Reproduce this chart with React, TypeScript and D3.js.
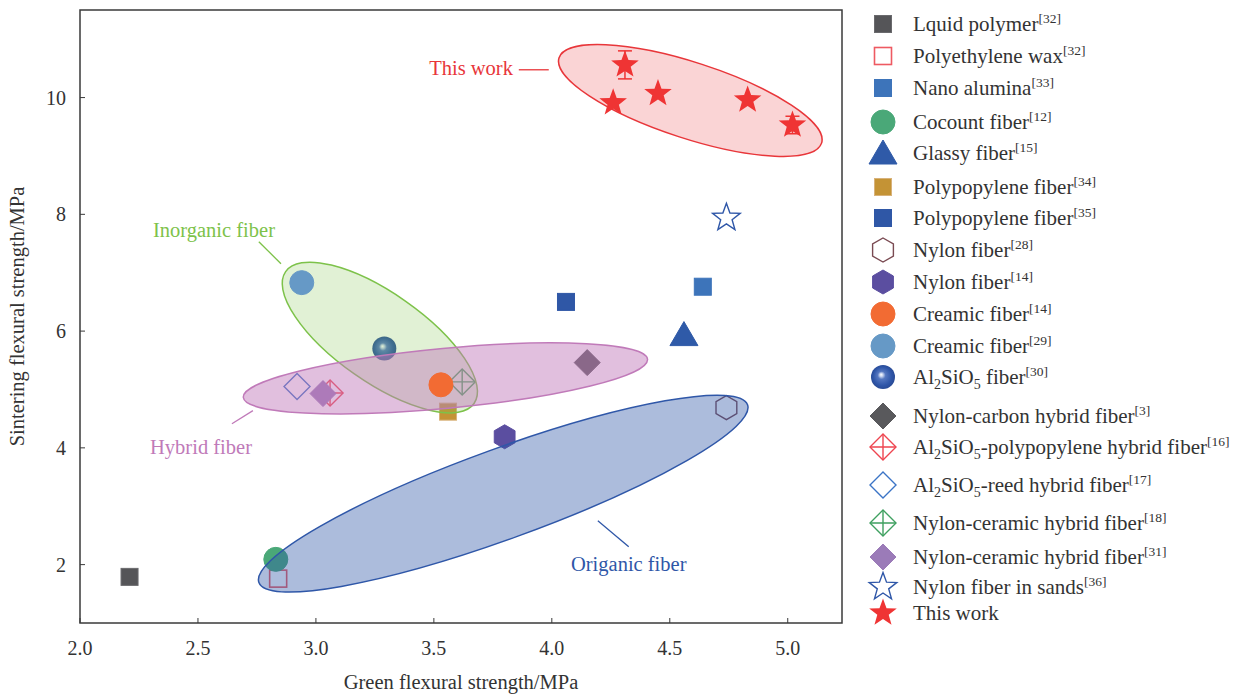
import React from "react";
import * as d3 from "d3";

const W = 1245;
const H = 697;
const M = { left: 80, right: 842, top: 10, bottom: 623 };

// axes
const xDomain = [2, 5.23];
const yDomain = [1, 11.5];
const xTicks = [2.0, 2.5, 3.0, 3.5, 4.0, 4.5, 5.0];
const yTicks = [2, 4, 6, 8, 10];

// literature data: name, reference, green / sintering flexural strength (MPa)
const materials = [
  "Lquid polymer",
  "Polyethylene wax",
  "Nano alumina",
  "Cocount fiber",
  "Glassy fiber",
  "Polypopylene fiber",
  "Polypopylene fiber",
  "Nylon fiber",
  "Nylon fiber",
  "Creamic fiber",
  "Creamic fiber",
  "Al2SiO5 fiber",
  "Nylon-carbon hybrid fiber",
  "Al2SiO5-polypopylene hybrid fiber",
  "Al2SiO5-reed hybrid fiber",
  "Nylon-ceramic hybrid fiber",
  "Nylon-ceramic hybrid fiber",
  "Nylon fiber in sands",
];
const refs = ["32", "32", "33", "12", "15", "34", "35", "28", "14", "14", "29", "30", "3", "16", "17", "18", "31", "36"];
const greenStrength = [2.21, 2.84, 4.64, 2.83, 4.56, 3.56, 4.06, 4.74, 3.80, 3.53, 2.94, 3.29, 4.15, 3.06, 2.92, 3.62, 3.03, 4.74];
const sinterStrength = [1.79, 1.76, 6.76, 2.09, 5.94, 4.62, 6.50, 4.69, 4.19, 5.08, 6.83, 5.70, 5.46, 4.94, 5.05, 5.13, 4.93, 7.94];

// this work
const thisWorkGreen = [4.31, 4.26, 4.45, 4.83, 5.02];
const thisWorkSinter = [10.56, 9.91, 10.07, 9.96, 9.53];
const thisWorkErr = [0.24, 0, 0, 0, 0.15];

// marker style per series (same order as materials)
type Shape = "square" | "circle" | "triangle" | "hexagon" | "diamond" | "diamondCross" | "star" | "sphere";
const styles: { shape: Shape; fill: string; stroke: string; sw?: number }[] = [
  { shape: "square", fill: "#555558", stroke: "#6a6a6d" },
  { shape: "square", fill: "none", stroke: "#ee5a62", sw: 1.6 },
  { shape: "square", fill: "#3d74ba", stroke: "#3d74ba" },
  { shape: "circle", fill: "#4aa878", stroke: "#4aa878" },
  { shape: "triangle", fill: "#2f5aa8", stroke: "#2f5aa8" },
  { shape: "square", fill: "#c49335", stroke: "#d8b27a" },
  { shape: "square", fill: "#2f57a6", stroke: "#2f57a6" },
  { shape: "hexagon", fill: "none", stroke: "#7a4a52", sw: 1.4 },
  { shape: "hexagon", fill: "#5b4ea0", stroke: "#5b4ea0" },
  { shape: "circle", fill: "#f26b33", stroke: "#f26b33" },
  { shape: "circle", fill: "#6699c6", stroke: "#6699c6" },
  { shape: "sphere", fill: "url(#sphereGrad)", stroke: "none" },
  { shape: "diamond", fill: "#59595c", stroke: "#59595c" },
  { shape: "diamondCross", fill: "none", stroke: "#ee4550", sw: 1.4 },
  { shape: "diamond", fill: "none", stroke: "#3b74c6", sw: 1.4 },
  { shape: "diamondCross", fill: "none", stroke: "#3fa060", sw: 1.4 },
  { shape: "diamond", fill: "#9b7bb8", stroke: "#9b7bb8" },
  { shape: "star", fill: "none", stroke: "#2f57a8", sw: 1.4 },
];
const starRed = "#ef3434";

// group regions drawn as tilted ellipses: centre in data units, radii in px, angle in degrees
const regions = [
  { cx: 3.794, cy: 3.216, rx: 260, ry: 45, angle: -20, color: "#2f57a8", alpha: 0.4 },
  { cx: 3.271, cy: 5.89, rx: 115, ry: 44.5, angle: 35, color: "#7dc24a", alpha: 0.23 },
  { cx: 3.549, cy: 5.19, rx: 203, ry: 30, angle: -5.4, color: "#c07ab9", alpha: 0.48 },
  { cx: 4.587, cy: 9.95, rx: 138, ry: 38, angle: 18, color: "#e8363a", alpha: 0.21 },
];

const annotations = [
  { text: "This work", tx: 3.835, ty: 10.39, anchor: "end", x1: 3.86, y1: 10.476, x2: 3.987, y2: 10.476, color: "#e8363a" },
  { text: "Inorganic fiber", tx: 2.568, ty: 7.616, anchor: "middle", x1: 2.758, y1: 7.531, x2: 2.852, y2: 7.154, color: "#7dc24a" },
  { text: "Hybrid fiber", tx: 2.513, ty: 3.9, anchor: "middle", x1: 2.644, y1: 4.414, x2: 2.733, y2: 4.637, color: "#c07ab9" },
  { text: "Origanic fiber", tx: 4.326, ty: 1.897, anchor: "middle", x1: 4.195, y1: 2.753, x2: 4.326, y2: 2.308, color: "#2f57a8" },
];

const FONT = "'Liberation Serif', 'Times New Roman', serif";
const TEXT = "#333333";

function starPath(R: number, r: number) {
  const pts: [number, number][] = [];
  for (let i = 0; i < 10; i++) {
    const a = -Math.PI / 2 + (i * Math.PI) / 5;
    const rad = i % 2 === 0 ? R : r;
    pts.push([rad * Math.cos(a), rad * Math.sin(a)]);
  }
  return "M" + pts.map((p) => p.join(",")).join("L") + "Z";
}

function hexPath(R: number) {
  const pts: [number, number][] = [];
  for (let i = 0; i < 6; i++) {
    const a = -Math.PI / 2 + (i * Math.PI) / 3;
    pts.push([R * Math.cos(a), R * Math.sin(a)]);
  }
  return "M" + pts.map((p) => p.join(",")).join("L") + "Z";
}

function Marker({ x, y, style, scale = 1 }: { x: number; y: number; style: (typeof styles)[number]; scale?: number }) {
  const { shape, fill, stroke } = style;
  const sw = style.sw ?? 1;
  const t = `translate(${x},${y}) scale(${scale})`;
  switch (shape) {
    case "square":
      return <rect transform={t} x={-8.5} y={-8.5} width={17} height={17} fill={fill} stroke={stroke} strokeWidth={sw} />;
    case "circle":
      return <circle transform={t} r={12} fill={fill} stroke={stroke} strokeWidth={sw} />;
    case "sphere":
      return <circle transform={t} r={12} fill={fill} />;
    case "triangle":
      return <path transform={t} d="M0,-13L14,11L-14,11Z" fill={fill} stroke={stroke} strokeWidth={sw} />;
    case "hexagon":
      return <path transform={t} d={hexPath(12)} fill={fill} stroke={stroke} strokeWidth={sw} />;
    case "diamond":
      return <path transform={t} d="M0,-13L13,0L0,13L-13,0Z" fill={fill} stroke={stroke} strokeWidth={sw} />;
    case "diamondCross":
      return (
        <g transform={t} fill="none" stroke={stroke} strokeWidth={sw}>
          <path d="M0,-13L13,0L0,13L-13,0Z" />
          <path d="M0,-13V13M-13,0H13" />
        </g>
      );
    case "star":
      return <path transform={t} d={starPath(14.5, 6)} fill={fill} stroke={stroke} strokeWidth={sw} strokeLinejoin="miter" />;
  }
  return null;
}

// legend label with chemical subscripts and a superscript reference
function LegendLabel({ x, y, name, refNo }: { x: number; y: number; name: string; refNo?: string }) {
  const parts: React.ReactNode[] = [];
  const chem = name.match(/^(.*?)Al2SiO5(.*)$/);
  if (chem) {
    parts.push(
      <tspan key="a">Al</tspan>,
      <tspan key="b" fontSize={14} dy={5}>2</tspan>,
      <tspan key="c" dy={-5}>SiO</tspan>,
      <tspan key="d" fontSize={14} dy={5}>5</tspan>,
      <tspan key="e" dy={-5}>{chem[2]}</tspan>
    );
  } else {
    parts.push(<tspan key="n">{name}</tspan>);
  }
  if (refNo) {
    parts.push(
      <tspan key="r" fontSize={13.5} dy={-8}>
        [{refNo}]
      </tspan>
    );
  }
  return (
    <text x={x} y={y} fontFamily={FONT} fontSize={21} fill={TEXT}>
      {parts}
    </text>
  );
}

const legendRows = [24, 56, 88, 122, 153, 187, 218, 250, 282, 314, 346, 377, 416, 447, 485, 523, 557, 587];
const legendThisWorkY = 613;

export default function App() {
  const x = d3.scaleLinear().domain(xDomain).range([M.left, M.right]);
  const y = d3.scaleLinear().domain(yDomain).range([M.bottom, M.top]);

  // ceramic fibres [14] and [29] sit above the shaded regions
  const onTop = new Set([9, 10]);
  const points = materials.map((_, i) => ({ i, px: x(greenStrength[i]), py: y(sinterStrength[i]) }));

  return (
    <svg width={W} height={H} style={{ position: "absolute", left: 0, top: 0, background: "#fff" }}>
      <defs>
        <radialGradient id="sphereGrad" cx="50%" cy="50%" r="55%" fx="42%" fy="40%">
          <stop offset="0%" stopColor="#ffffff" />
          <stop offset="12%" stopColor="#c9d5ef" />
          <stop offset="30%" stopColor="#5577c0" />
          <stop offset="70%" stopColor="#2f56a8" />
          <stop offset="100%" stopColor="#26468f" />
        </radialGradient>
      </defs>

      {/* literature markers */}
      {points
        .filter((p) => !onTop.has(p.i))
        .map((p) => (
          <Marker key={p.i} x={p.px} y={p.py} style={styles[p.i]} />
        ))}

      {/* group regions */}
      {regions.map((r, k) => (
        <ellipse
          key={k}
          cx={0}
          cy={0}
          rx={r.rx}
          ry={r.ry}
          transform={`translate(${x(r.cx)},${y(r.cy)}) rotate(${r.angle})`}
          fill={r.color}
          fillOpacity={r.alpha}
          stroke={r.color}
          strokeWidth={1.5}
        />
      ))}

      {points
        .filter((p) => onTop.has(p.i))
        .map((p) => (
          <Marker key={p.i} x={p.px} y={p.py} style={styles[p.i]} />
        ))}

      {/* this work with error bars */}
      {thisWorkGreen.map((g, i) => {
        const cx = x(g);
        const cy = y(thisWorkSinter[i]);
        const e = thisWorkErr[i];
        return (
          <g key={i}>
            {e > 0 && (
              <g stroke={starRed} strokeWidth={1.5}>
                <line x1={cx} x2={cx} y1={y(thisWorkSinter[i] + e)} y2={y(thisWorkSinter[i] - e)} />
                <line x1={cx - 7} x2={cx + 7} y1={y(thisWorkSinter[i] + e)} y2={y(thisWorkSinter[i] + e)} />
                <line x1={cx - 7} x2={cx + 7} y1={y(thisWorkSinter[i] - e)} y2={y(thisWorkSinter[i] - e)} />
              </g>
            )}
            <path transform={`translate(${cx},${cy})`} d={starPath(14.5, 6)} fill={starRed} />
          </g>
        );
      })}

      {/* annotations */}
      {annotations.map((a, k) => (
        <g key={k}>
          <line x1={x(a.x1)} y1={y(a.y1)} x2={x(a.x2)} y2={y(a.y2)} stroke={a.color} strokeWidth={1.3} />
          <text x={x(a.tx)} y={y(a.ty)} textAnchor={a.anchor as any} fontFamily={FONT} fontSize={20.5} fill={a.color}>
            {a.text}
          </text>
        </g>
      ))}

      {/* frame */}
      <rect x={M.left} y={M.top} width={M.right - M.left} height={M.bottom - M.top} fill="none" stroke="#3a3a3a" strokeWidth={1.5} />

      {/* x axis */}
      {xTicks.map((t) => (
        <g key={t}>
          <line x1={x(t)} x2={x(t)} y1={M.bottom} y2={M.bottom - 5} stroke="#3a3a3a" strokeWidth={1} />
          <text x={x(t)} y={M.bottom + 32} textAnchor="middle" fontFamily={FONT} fontSize={20} fill={TEXT}>
            {d3.format(".1f")(t)}
          </text>
        </g>
      ))}
      <text x={(M.left + M.right) / 2} y={689} textAnchor="middle" fontFamily={FONT} fontSize={20.5} fill={TEXT}>
        Green flexural strength/MPa
      </text>

      {/* y axis */}
      {yTicks.map((t) => (
        <g key={t}>
          <line x1={M.left} x2={M.left + 5} y1={y(t)} y2={y(t)} stroke="#3a3a3a" strokeWidth={1} />
          <text x={M.left - 14} y={y(t) + 7} textAnchor="end" fontFamily={FONT} fontSize={20} fill={TEXT}>
            {t}
          </text>
        </g>
      ))}
      <text
        transform={`translate(24,${(M.top + M.bottom) / 2}) rotate(-90)`}
        textAnchor="middle"
        fontFamily={FONT}
        fontSize={20.5}
        fill={TEXT}
      >
        Sintering flexural strength/MPa
      </text>

      {/* legend */}
      {materials.map((m, i) => (
        <g key={i}>
          <Marker x={883} y={legendRows[i]} style={styles[i]} />
          <LegendLabel x={913} y={legendRows[i] + 7} name={m} refNo={refs[i]} />
        </g>
      ))}
      <path transform={`translate(883,${legendThisWorkY})`} d={starPath(14.5, 6)} fill={starRed} />
      <LegendLabel x={913} y={legendThisWorkY + 7} name="This work" />
    </svg>
  );
}
